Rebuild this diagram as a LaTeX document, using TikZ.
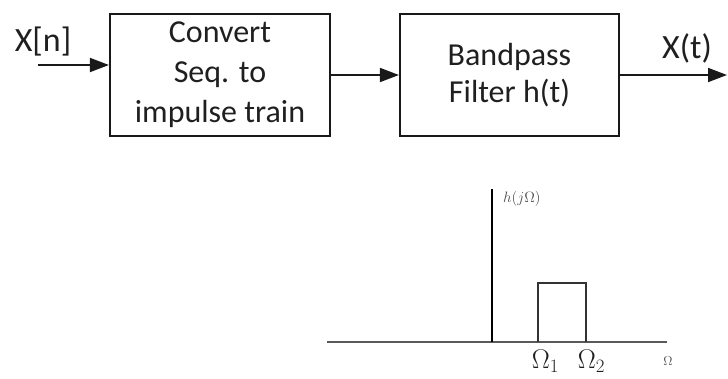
\RequirePackage{fix-cm}
\documentclass[tikz,border=0pt]{standalone}
\usepackage{fontspec}
\setmainfont{Carlito}
\usetikzlibrary{arrows.meta}
\begin{document}
\begin{tikzpicture}[x=1pt,y=-1pt,
  blockbox/.style={draw=black!90,line width=2.2pt,inner sep=0pt,align=center,
    text=black!88,font=\fontsize{32}{40}\selectfont},
  sig/.style={draw=black!90,line width=1.8pt,-{Triangle[length=19pt,width=14pt]}},
  lbl/.style={text=black!88,font=\fontsize{34}{40}\selectfont,inner sep=0pt},
  axisline/.style={line width=1.6pt}]
\useasboundingbox (0,0) rectangle (728,378);
\node[blockbox,minimum width=220pt,minimum height=122pt] (conv) at (220,75) {Convert\\Seq. to\\impulse train};
\node[blockbox,minimum width=219pt,minimum height=122pt,font=\fontsize{32}{37}\selectfont] (bpf) at (509.5,75) {Bandpass\\Filter h(t)};
\coordinate (in) at (38,65);
\coordinate (out) at (727,75);
\draw[sig] (in) -- (conv.west |- in);
\draw[sig] (conv.east) -- (bpf.west);
\draw[sig] (bpf.east) -- (out);
\node[lbl] (xn) at (43,42) {X[n]};
\node[lbl] (xt) at (687,48) {X(t)};
% frequency response
\coordinate (hl) at (327,342);
\coordinate (hr) at (667,342);
\coordinate (vb) at (492,342);
\coordinate (vt) at (492,189);
\draw[axisline,draw=black!65] (hl) -- (hr);
\draw[axisline,draw=black] (vb) -- (vt);
\coordinate (r1) at (538,342);
\coordinate (r2) at (586,342);
\draw[axisline,draw=black!80] (r1) -- (538,283) -- (586,283) -- (r2);
\node[text=black!70,font=\fontsize{15}{16}\selectfont,anchor=west,inner sep=0pt] (hj) at (503,199) {$h(j\Omega)$};
\node[text=black!88,font=\fontsize{27}{30}\selectfont,inner sep=0pt] (o1) at (545.5,361) {$\Omega_1$};
\node[text=black!88,font=\fontsize{27}{30}\selectfont,inner sep=0pt] (o2) at (591.5,361) {$\Omega_2$};
\node[text=black!70,font=\fontsize{13}{14}\selectfont,inner sep=0pt] (om) at (668,361) {$\Omega$};
\end{tikzpicture}
\end{document}
